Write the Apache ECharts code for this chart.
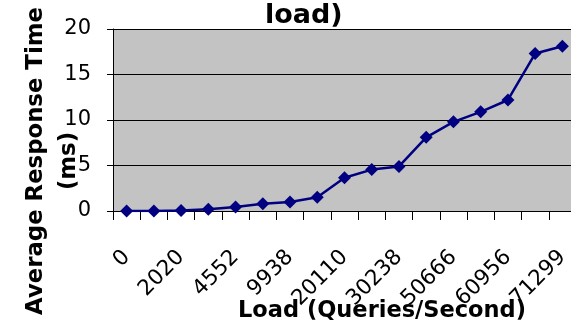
<!DOCTYPE html>
<html>
<head>
<meta charset="utf-8">
<script src="https://cdn.jsdelivr.net/npm/echarts@6/dist/echarts.min.js"></script>
<style>
  html, body { margin: 0; padding: 0; background: #ffffff; }
  #chart { width: 571px; height: 326px; }
</style>
</head>
<body>
<div id="chart"></div>
<script>
// Load levels on the category axis (only every other one is labelled)
const loadLabels = ['0', '', '2020', '', '4552', '', '9938', '', '20110', '', '30238', '', '50666', '', '60956', '', '71299'];
// Average response time (ms) at each load level
const responseTimes = [0, 0, 0.05, 0.2, 0.45, 0.8, 1.0, 1.5, 3.65, 4.55, 4.9, 8.1, 9.8, 10.9, 12.2, 17.3, 18.1];
// Value axis ticks
const yTicks = { min: 0, max: 20, step: 5 };

const FONT = 'DejaVu Sans';
const chart = echarts.init(document.getElementById('chart'), null, { renderer: 'canvas' });

chart.setOption({
  animation: false,
  backgroundColor: '#ffffff',
  title: {
    text: 'load)',
    left: 265,
    top: 2,
    padding: 0,
    textStyle: { fontFamily: FONT, fontSize: 27, fontWeight: 'bold', color: '#000000' }
  },
  grid: {
    left: 113,
    right: -5,
    top: 29,
    bottom: 115,
    show: true,
    backgroundColor: '#c3c3c3',
    borderWidth: 0,
    containLabel: false,
    outerBoundsMode: 'none'
  },
  xAxis: {
    type: 'category',
    data: loadLabels,
    boundaryGap: true,
    name: 'Load (Queries/Second)',
    nameLocation: 'middle',
    nameGap: 89,
    nameMoveOverlap: false,
    nameTextStyle: {
      fontFamily: FONT, fontSize: 22.5, fontWeight: 'bold', color: '#000000',
      padding: [0, 0, 0, 75]
    },
    axisLine: { show: true, lineStyle: { color: '#000000', width: 1 } },
    axisTick: { show: true, interval: 0, length: 9, inside: false, lineStyle: { color: '#000000', width: 1 } },
    axisLabel: {
      interval: 0,
      rotate: 45,
      margin: 43,
      fontFamily: FONT,
      fontSize: 21.5,
      color: '#000000'
    },
    splitLine: { show: false }
  },
  yAxis: {
    type: 'value',
    min: yTicks.min,
    max: yTicks.max,
    interval: yTicks.step,
    name: 'Average Response Time\n(ms)',
    nameLocation: 'middle',
    nameGap: 27,
    nameMoveOverlap: false,
    nameTextStyle: {
      fontFamily: FONT, fontSize: 22.8, fontWeight: 'bold', color: '#000000',
      lineHeight: 33, align: 'center',
      padding: [0, 82, 0, 0]
    },
    axisLine: { show: true, lineStyle: { color: '#000000', width: 1 } },
    axisTick: { show: true, length: 6, inside: false, lineStyle: { color: '#000000', width: 1 } },
    axisLabel: {
      margin: 22,
      fontFamily: FONT,
      fontSize: 21,
      color: '#000000'
    },
    splitLine: { show: true, lineStyle: { color: '#000000', width: 1 } }
  },
  series: [{
    type: 'line',
    data: responseTimes,
    symbol: 'diamond',
    symbolSize: 13,
    showAllSymbol: true,
    lineStyle: { color: '#000080', width: 2.5 },
    itemStyle: { color: '#000080', borderWidth: 0 },
    emphasis: { disabled: true }
  }]
});
</script>
</body>
</html>
